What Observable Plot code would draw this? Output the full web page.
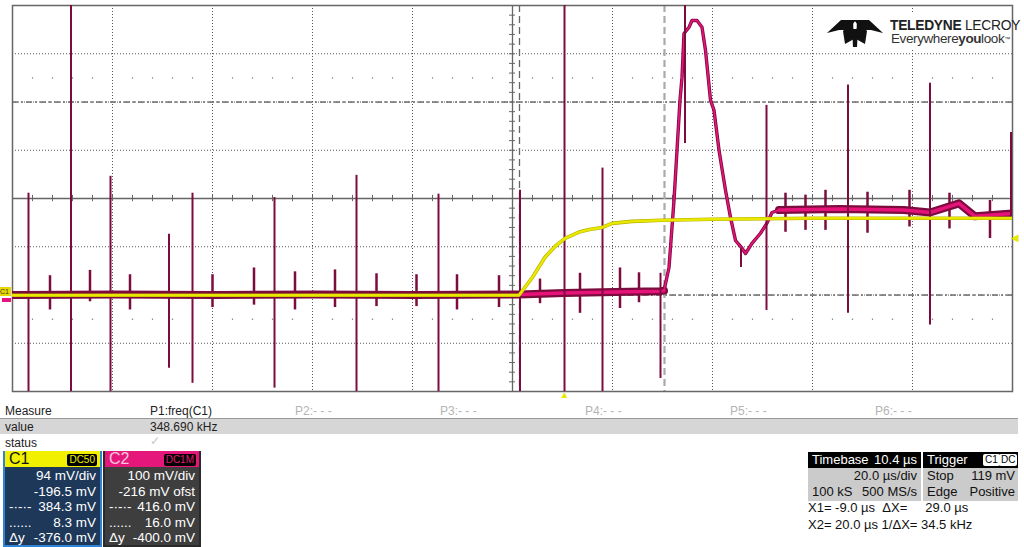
<!DOCTYPE html>
<html><head><meta charset="utf-8">
<script src="https://cdn.jsdelivr.net/npm/d3@7"></script>
<script src="https://cdn.jsdelivr.net/npm/@observablehq/plot@0.6"></script>
<style>
body{margin:0;background:#fff;font-family:"Liberation Sans",Arial,sans-serif;}
#root{position:relative;width:1024px;height:547px;overflow:hidden;background:#fff;}
#chart{position:absolute;left:0;top:0;}
.a{position:absolute;white-space:nowrap;}
.row{font-size:12px;color:#222;height:15px;line-height:15px;}
.pg{color:#b4b4b4;}
.box{position:absolute;box-sizing:border-box;}
.hd{position:absolute;left:0;right:0;top:0;height:16px;line-height:16px;font-size:16px;}
.ln{position:absolute;left:0;right:4px;height:15px;line-height:15px;font-size:13.5px;color:#fff;text-align:right;}
.lt{position:absolute;left:4px;height:15px;line-height:15px;font-size:13.5px;color:#fff;}
.badge{position:absolute;top:3px;height:12px;line-height:12px;font-size:10px;padding:0 2px;border-radius:2px;background:#000;}
.tb{font-size:13px;color:#111;height:16px;line-height:16px;}
</style></head>
<body><div id="root"><div id="chart"></div></div>
<script>
// ---- scope settings ----
const timePerDiv = 20;        // µs/div
const timebaseDelay = 10.4;   // µs
const c1PerDiv = 94, c1Center = 196.5;   // mV
const c2PerDiv = 100, c2Center = 216;    // mV (offset -216 mV)
const triggerLevel = 119;     // mV on C1
const xCursors = [-9.0, 20.0];           // µs
const c1Cursors = [384.3, 8.3];          // mV
const c2Cursors = [416.0, 16.0];         // mV

// ---- C1 (yellow) trace ----
const c1Time = [-110.4, -60, -20, -9.1, -6.4, -3.9, -1.9, 0.1, 2.9, 5.0, 7.5, 9.5, 13.5, 19.5, 29.5, 49.5, 70, 89.6];
const c1mV   = [8, 8, 8, 8, 43, 82, 103, 119, 131, 136, 140, 148, 152, 154, 156, 158, 158, 158];

// ---- C2 (magenta) trace ----
const c2Time = [-110.4, -90, -70, -50, -30, -9, 0, 10, 19.2, 19.9, 20.9, 21.9, 22.5, 23.1, 23.5, 23.9, 24.9, 25.5, 26.5, 27.5, 28.2, 29.2, 29.9, 30.9, 32.2, 33.2, 34.2, 35.5, 36.2, 37.5, 39.2, 40.5, 41.5, 42.9, 55, 67.9, 73.1, 78.9, 82.1, 89.6];
const c2mV   = [16, 17, 16, 17, 16, 17, 20, 22, 24, 25, 73, 212, 316, 420, 467, 558, 571, 585, 585, 571, 523, 420, 399, 316, 233, 177, 129, 113, 102, 123, 144, 165, 187, 192, 194, 192, 187, 206, 179, 185];
const pulseStart = 19.9, pulseEnd = 42.9;  // µs, edges of the pulse excursion

// large spikes on C2 (µs, top mV, bottom mV)
const spikeTime   = [-107.2, -98.7, -90.8, -79.1, -74.4, -58.0, -41.6, -25.2, -8.9, 0.0, 7.6, 19.2, 24.1, 35.3, 40.4, 56.7, 73.1, 89.3];
const spikeTop    = [227, 640, 262, 142, 227, 218, 264, 225, 233, 640, 279, 61, 640, 113, 409, 451, 455, 353];
const spikeBottom = [-200, -200, -200, -136, -167, -177, -190, -200, -200, -200, -200, -157, 330, 73, -16, -22, -46, 171];

// small ringing bursts on C2
const burstTime   = [-102.9, -94.9, -86.9, -70.4, -62.1, -53.9, -45.9, -37.6, -29.6, -21.5, -13.1, -4.9, 3.1, 11.1, 14.9, 44.2, 48.2, 52.2, 60.6, 69.0, 77.0, 85.1];
const burstTop    = [56, 67, 58, 58, 72, 64, 68, 60, 58, 58, 56, 49, 61, 72, 62, 227, 223, 233, 229, 233, 227, 212];
const burstBottom = [-15, 2, -15, -10, -5, -15, -10, -8, -8, -15, -10, -2, -22, -12, 0, 146, 150, 150, 144, 157, 153, 133];

// ---- conversions to screen divisions ----
const d1 = v => (v - c1Center) / c1PerDiv;
const d2 = v => (v - c2Center) / c2PerDiv;
const tCenter = -timebaseDelay;
const x0 = tCenter - 5 * timePerDiv, x1 = tCenter + 5 * timePerDiv;

const c1 = c1Time.map((t, i) => ({t, y: d1(c1mV[i])}));
const c2 = c2Time.map((t, i) => ({t, y: d2(c2mV[i])}));
const c2Pre = c2.filter(d => d.t <= pulseStart);
const c2Mid = c2.filter(d => d.t >= xCursors[0] && d.t <= pulseStart);
const c2Post = c2.filter(d => d.t >= pulseEnd);
const spikes = spikeTime.map((t, i) => ({t, top: d2(spikeTop[i]), bot: d2(spikeBottom[i])}));
const bursts = burstTime.map((t, i) => ({t, top: d2(burstTop[i]), bot: d2(burstBottom[i])}));

const majorX = d3.range(1, 10).filter(k => k !== 5).map(k => x0 + k * timePerDiv);
const majorY = [-3, -2, -1, 1, 2, 3];
const minorX = d3.range(1, 50).map(k => x0 + k * timePerDiv / 5);
const minorY = d3.range(1, 40).map(k => -4 + k * 0.2);
const dotX = minorX.filter((v, i) => (i + 1) % 5 !== 0);
const dots = [2.5, -2.5].flatMap(y => dotX.map(t => ({t, y})));

const hCursors = [...c1Cursors.map(d1), ...c2Cursors.map(d2)];

const maroon = "#7c0b3e", pink = "#e6137a", yellow = "#e8e800";

const plot = Plot.plot({
  width: 1024, height: 402,
  marginLeft: 12, marginRight: 12, marginTop: 5, marginBottom: 11,
  x: {domain: [x0, x1], axis: null},
  y: {domain: [-4, 4], axis: null},
  style: {background: "transparent", overflow: "visible"},
  marks: [
    Plot.ruleX(majorX, {stroke: "#555", strokeDasharray: "1,2"}),
    Plot.ruleY(majorY, {stroke: "#555", strokeDasharray: "1,2"}),
    Plot.ruleY(hCursors, {stroke: "#777", strokeDasharray: "6,3,2,3", strokeWidth: 1.2}),
    Plot.dot(dots, {x: "t", y: "y", r: 0.7, fill: "#666", stroke: null}),
    Plot.ruleX([tCenter], {stroke: "#666", strokeWidth: 1.3}),
    Plot.ruleY([0], {stroke: "#666", strokeWidth: 1.3}),
    Plot.ruleX(minorX, {y1: -0.065, y2: 0.065, stroke: "#666"}),
    Plot.ruleY(minorY, {x1: tCenter - 0.6, x2: tCenter + 0.6, stroke: "#666"}),
    Plot.ruleX([xCursors[0]], {stroke: "#666", strokeWidth: 1.3, strokeDasharray: "7,4"}),
    Plot.ruleX([xCursors[1]], {stroke: "#aaa", strokeWidth: 2.2, strokeDasharray: "7,4"}),
    Plot.frame({stroke: "#666", strokeWidth: 1.5}),
    // C2 trace
    Plot.ruleX(bursts, {x: "t", y1: "top", y2: "bot", stroke: maroon, strokeWidth: 2.5, clip: true}),
    Plot.line(c2Pre, {x: "t", y: "y", stroke: maroon, strokeWidth: 8, clip: true}),
    Plot.line(c2Post, {x: "t", y: "y", stroke: maroon, strokeWidth: 8, clip: true}),
    Plot.line(c2, {x: "t", y: "y", stroke: maroon, strokeWidth: 3.4, clip: true}),
    Plot.line(c2Mid, {x: "t", y: "y", stroke: pink, strokeWidth: 3.5, clip: true}),
    Plot.line(c2Post, {x: "t", y: "y", stroke: pink, strokeWidth: 3.5, clip: true}),
    Plot.line(c2, {x: "t", y: "y", stroke: pink, strokeWidth: 1.7, clip: true}),
    Plot.ruleX(spikes, {x: "t", y1: "top", y2: "bot", stroke: maroon, strokeWidth: 2, clip: true}),
    // C1 trace
    Plot.line(c1, {x: "t", y: "y", stroke: "#b8b000", strokeWidth: 3.6, clip: true}),
    Plot.line(c1, {x: "t", y: "y", stroke: yellow, strokeWidth: 2.4, clip: true}),
    // trigger markers
    Plot.text([0], {x: d => d, frameAnchor: "bottom", dy: 6, text: () => "▲", fill: yellow, fontSize: 10}),
    Plot.text([d1(triggerLevel)], {y: d => d, frameAnchor: "right", dx: 6, text: () => "◀", fill: yellow, fontSize: 10})
  ]
});
document.getElementById("chart").appendChild(plot);

// ---- overlays ----
const root = document.getElementById("root");
function el(html) { root.insertAdjacentHTML("beforeend", html); }

// channel offset markers on left
el(`<div class="a" style="left:0;top:287px;width:11px;height:9px;background:#e8d800;font-size:7px;line-height:9px;color:#333">C1</div>`);
el(`<div class="a" style="left:2px;top:298px;width:9px;height:4px;background:${pink}"></div>`);

// logo
el(`<div class="a" style="left:825px;top:14px;width:186px;height:36px;background:#fff"></div>`);
el(`<svg class="a" style="left:826px;top:17px" width="62" height="32" viewBox="0 0 62 32">
  <polygon points="1,16 15,3 30,3 22,13 13,13 " fill="#111"/>
  <polygon points="57,16 43,3 28,3 36,13 45,13" fill="#111"/>
  <polygon points="17,14 27,4 28,22 19,27" fill="#111"/>
  <polygon points="41,14 31,4 30,22 39,27" fill="#111"/>
  <polygon points="26,12 32,12 31,30 27,30" fill="#111"/>
</svg>`);
el(`<div class="a" style="left:890px;top:17px;font-size:15px;line-height:16px;color:#222;letter-spacing:-0.3px;transform:scaleX(0.92);transform-origin:left"><b>TELEDYNE</b> LECROY</div>`);
el(`<div class="a" style="left:891px;top:32px;font-size:13.5px;line-height:14px;color:#333;letter-spacing:-0.4px">Everywhere<b>you</b>look<span style="font-size:6px;vertical-align:top">™</span></div>`);

// measure table
el(`<div class="a" style="left:0;top:418px;width:1018px;height:1px;background:#999"></div>`);
el(`<div class="a" style="left:0;top:419px;width:1018px;height:15px;background:#d6d6d6"></div>`);
const pLabels = ["P1:freq(C1)", "P2:- - -", "P3:- - -", "P4:- - -", "P5:- - -", "P6:- - -"];
const pX = [150, 295, 440, 585, 730, 875];
el(`<div class="a row" style="left:5px;top:404px">Measure</div>`);
pLabels.forEach((p, i) => el(`<div class="a row ${i ? "pg" : ""}" style="left:${pX[i]}px;top:404px">${p}</div>`));
el(`<div class="a row" style="left:5px;top:420px">value</div>`);
el(`<div class="a row" style="left:150px;top:420px">348.690 kHz</div>`);
el(`<div class="a row" style="left:5px;top:436px">status</div>`);
el(`<div class="a row" style="left:150px;top:434px;color:#c8c8c8">✓</div>`);

// channel boxes
const c1Rows = [["", "94 mV/div"], ["", "-196.5 mV"], ["-·-·-", "384.3 mV"], ["......", "8.3 mV"], ["Δy", "-376.0 mV"]];
const c2Rows = [["", "100 mV/div"], ["", "-216 mV ofst"], ["-·-·-", "416.0 mV"], ["......", "16.0 mV"], ["Δy", "-400.0 mV"]];
function chanBox(left, width, name, badge, hdBg, hdFg, badgeFg, bodyBg, border, rows) {
  let h = `<div class="box" style="left:${left}px;top:451px;width:${width}px;height:96px;background:${bodyBg};border:2px solid ${border};border-top:none">`;
  h += `<div class="hd" style="background:${hdBg};color:${hdFg};padding-left:4px">${name}<span class="badge" style="right:3px;color:${badgeFg}">${badge}</span></div>`;
  rows.forEach((r, i) => {
    const top = 17 + i * 15.5;
    if (r[0]) h += `<div class="lt" style="top:${top}px">${r[0]}</div>`;
    h += `<div class="ln" style="top:${top}px">${r[1]}</div>`;
  });
  h += `</div>`;
  el(h);
}
chanBox(3, 99, "C1", "DC50", "#f0f000", "#111", "#f0f000", "#1d3859", "#2f84d8", c1Rows);
chanBox(103, 98, "C2", "DC1M", "#e5177b", "#f7c6dc", "#e5177b", "#3e3e3e", "#2a2a2a", c2Rows);

// timebase / trigger
el(`<div class="a" style="left:808px;top:452px;width:113px;height:16px;background:#000;color:#fff" ><span class="a tb" style="left:4px;color:#fff">Timebase</span><span class="a tb" style="right:4px;color:#fff">10.4 µs</span></div>`);
el(`<div class="a" style="left:808px;top:468px;width:113px;height:33px;background:#cbcbcb"><span class="a tb" style="right:4px;top:0">20.0 µs/div</span><span class="a tb" style="left:4px;top:16px">100 kS</span><span class="a tb" style="right:4px;top:16px">500 MS/s</span></div>`);
el(`<div class="a" style="left:923px;top:452px;width:95px;height:16px;background:#000"><span class="a tb" style="left:4px;color:#fff">Trigger</span><span class="a" style="left:60px;top:2px;height:12px;line-height:12px;font-size:10px;background:#fff;color:#000;padding:0 2px;border-radius:2px">C1</span><span class="a" style="left:76px;top:2px;height:12px;line-height:12px;font-size:10px;background:#fff;color:#000;padding:0 2px;border-radius:2px">DC</span></div>`);
el(`<div class="a" style="left:923px;top:468px;width:95px;height:33px;background:#cbcbcb"><span class="a tb" style="left:4px;top:0">Stop</span><span class="a tb" style="right:3px;top:0">119 mV</span><span class="a tb" style="left:4px;top:16px">Edge</span><span class="a tb" style="right:3px;top:16px">Positive</span></div>`);
el(`<div class="a tb" style="left:808px;top:500px">X1= -9.0 µs &nbsp;ΔX= &nbsp;&nbsp;&nbsp;&nbsp;29.0 µs</div>`);
el(`<div class="a tb" style="left:808px;top:517px">X2= 20.0 µs 1/ΔX= 34.5 kHz</div>`);
</script>
</body></html>
